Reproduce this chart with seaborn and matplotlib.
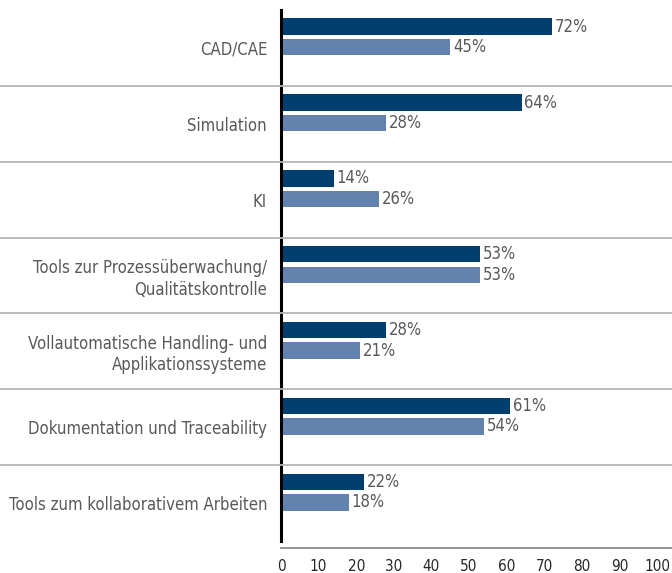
import matplotlib
matplotlib.use("Agg")
import matplotlib.pyplot as plt
import matplotlib.transforms as mtransforms
from matplotlib import font_manager
import numpy as np
import pandas as pd
import seaborn as sns

categories = [
    "CAD/CAE",
    "Simulation",
    "KI",
    "Tools zur Prozessüberwachung/\nQualitätskontrolle",
    "Vollautomatische Handling- und\nApplikationssysteme",
    "Dokumentation und Traceability",
    "Tools zum kollaborativem Arbeiten",
]
series_names = ["Gruppe 1", "Gruppe 2"]
values_dark = [72, 64, 14, 53, 28, 61, 22]
values_light = [45, 28, 26, 53, 21, 54, 18]
xticks = [0, 10, 20, 30, 40, 50, 60, 70, 80, 90, 100]

df = pd.DataFrame({
    "kategorie": categories * 2,
    "gruppe": [series_names[0]] * len(categories) + [series_names[1]] * len(categories),
    "wert": values_dark + values_light,
})

sns.set_theme(style="white")

# schmale Schrift suchen, sonst DejaVu Sans kleiner
narrow = [f for f in font_manager.fontManager.ttflist
          if "narrow" in (f.name + f.fname).lower() or "condensed" in (f.name + f.fname).lower()
          or f.stretch in ("condensed", "semi-condensed")]
if narrow:
    fam = narrow[0].name
    stretch = narrow[0].stretch
    fs = 12
else:
    fam = "DejaVu Sans"
    stretch = "normal"
    fs = 10
plt.rcParams["font.family"] = [fam, "DejaVu Sans"]
plt.rcParams["font.stretch"] = stretch

fig = plt.figure(figsize=(6.72, 5.73), dpi=100)
ax = fig.add_axes([281 / 672, 1 - 541 / 573, 1 - 281 / 672, (541 - 10) / 573])

sns.barplot(
    data=df, y="kategorie", x="wert", hue="gruppe", orient="h",
    palette=["#033f6e", "#6383ae"], width=0.54, gap=0.2,
    legend=False, ax=ax, saturation=1, linewidth=0,
)

grey = "#595959"
for cont in ax.containers:
    ax.bar_label(cont, fmt="%d%%", padding=2, color=grey, fontsize=fs)

off = 0.145
n = len(categories)
ax.set_ylim(n - 0.5 + off, -0.5 + off)
ax.set_xlim(0, 104)
ax.set_yticks(np.arange(n) + off, categories, color=grey, fontsize=fs, linespacing=1.22)
ax.set_xticks(xticks, [str(t) for t in xticks], color=grey, fontsize=fs + 0.5, fontweight="bold")
ax.tick_params(axis="both", length=0)
ax.tick_params(axis="y", pad=10)
ax.tick_params(axis="x", pad=8)
ax.set_xlabel("")
ax.set_ylabel("")

# Trennlinien zwischen den Kategorien über die ganze Breite
trans = mtransforms.blended_transform_factory(fig.transFigure, ax.transData)
for i in range(n - 1):
    fig.add_artist(plt.Line2D([0, 1], [i + 0.5 + off] * 2, transform=trans,
                              color="#b4b4b4", lw=1.3))

for s in ["top", "right"]:
    ax.spines[s].set_visible(False)
ax.spines["left"].set_color("black")
ax.spines["left"].set_linewidth(2.2)
ax.spines["bottom"].set_color("#8c8c8c")
ax.spines["bottom"].set_linewidth(1.3)
ax.spines["bottom"].set_position(("outward", 5))

fig.savefig("out.png", dpi=100)
